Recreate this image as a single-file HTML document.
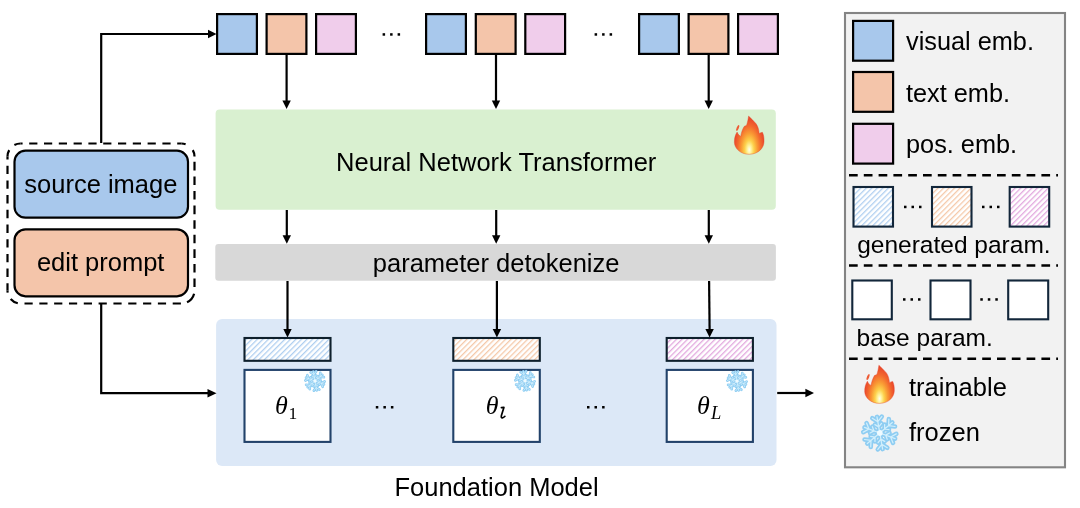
<!DOCTYPE html>
<html><head><meta charset="utf-8">
<style>
html,body{margin:0;padding:0;background:#fff;width:1080px;height:508px;overflow:hidden}
svg{display:block;will-change:transform}
text{font-family:"Liberation Sans",sans-serif;fill:#000}
.t25{font-size:25.5px}
.m{font-family:"Liberation Serif",serif;font-style:italic}
</style></head><body>
<svg width="1080" height="508" viewBox="0 0 1080 508">
<defs>
<pattern id="hb" patternUnits="userSpaceOnUse" width="3.9" height="4" patternTransform="rotate(45)"><rect width="3.9" height="4" fill="#fff"/><line x1="0.6" y1="0" x2="0.6" y2="4" stroke="#b0cff0" stroke-width="1.4"/></pattern>
<pattern id="ho" patternUnits="userSpaceOnUse" width="3.9" height="4" patternTransform="rotate(45)"><rect width="3.9" height="4" fill="#fff"/><line x1="0.6" y1="0" x2="0.6" y2="4" stroke="#f5c9aa" stroke-width="1.4"/></pattern>
<pattern id="hp" patternUnits="userSpaceOnUse" width="3.9" height="4" patternTransform="rotate(45)"><rect width="3.9" height="4" fill="#fff"/><line x1="0.6" y1="0" x2="0.6" y2="4" stroke="#e2a8de" stroke-width="1.4"/></pattern>
<radialGradient id="fg" gradientUnits="userSpaceOnUse" cx="15" cy="33.5" r="27" gradientTransform="translate(15 33.5) scale(0.72 1.45) translate(-15 -33.5)">
<stop offset="0" stop-color="#fffef0"/><stop offset="0.1" stop-color="#fff4a0"/><stop offset="0.24" stop-color="#fdd04a"/><stop offset="0.42" stop-color="#f99a34"/><stop offset="0.6" stop-color="#f36a2e"/><stop offset="0.78" stop-color="#ea4a2b"/><stop offset="1" stop-color="#e03a2a"/>
</radialGradient>
<g id="flame">
<path d="M14.3 0 C16.5 2.2 20 5.5 21.8 7.7 C23.5 10 24.6 13.5 24.9 17.5 C25.8 16.8 27 16.3 28.1 16.2 C29.3 18.5 29.9 22 29.7 25.8 C29.4 31.5 25 37.8 15 38.2 C6 38.2 0.4 32.5 0.1 26.5 C-0.1 22.5 1 18.5 2.8 16 C3.5 17.8 4.8 19.3 6.4 20.3 C7 17 8 13.5 9.8 10.4 L12.3 9.2 C13.3 6.5 13.8 3.2 14.3 0 Z" fill="url(#fg)" stroke="#e5452c" stroke-width="0.6" stroke-opacity="0.7"/>
<ellipse cx="3.45" cy="11.8" rx="1.1" ry="3.2" transform="rotate(22 3.45 11.8)" fill="#ee5a34"/>
</g>
<g id="snow">
<g id="arm" fill="none" stroke-linecap="round" stroke-linejoin="round">
<path d="M0 0 L0 -17 M0 -12 L-5 -16.5 M0 -12 L5 -16.5 M0 -6.5 L-3.5 -9.5 M0 -6.5 L3.5 -9.5"/>
</g>
</g>
<g id="sf"><g transform="rotate(-10)">
<g stroke="#8ecdf2" stroke-width="4.8">
<use href="#arm"/><use href="#arm" transform="rotate(60)"/><use href="#arm" transform="rotate(120)"/><use href="#arm" transform="rotate(180)"/><use href="#arm" transform="rotate(240)"/><use href="#arm" transform="rotate(300)"/>
</g>
<g stroke="#d2effc" stroke-width="1.3">
<use href="#arm"/><use href="#arm" transform="rotate(60)"/><use href="#arm" transform="rotate(120)"/><use href="#arm" transform="rotate(180)"/><use href="#arm" transform="rotate(240)"/><use href="#arm" transform="rotate(300)"/>
</g>
<circle r="3" fill="#eefaff"/>
</g></g>
</defs>

<!-- Foundation model box -->
<rect x="216.1" y="318.9" width="560.4" height="147.2" rx="6" fill="#dce8f7"/>
<!-- Green transformer box -->
<rect x="215.6" y="109.6" width="560.2" height="100.1" rx="4" fill="#d9f0d0"/>
<!-- Grey detokenize -->
<rect x="215.3" y="244.1" width="560.6" height="36.6" rx="3" fill="#d8d8d8"/>

<!-- top tokens -->
<g stroke="#000" stroke-width="2.2">
<rect x="217.1" y="14.1" width="39.8" height="39.8" fill="#a8c8ec"/>
<rect x="266.6" y="14.1" width="39.8" height="39.8" fill="#f4c5aa"/>
<rect x="316.1" y="14.1" width="39.8" height="39.8" fill="#f0cdeb"/>
<rect x="426.1" y="14.1" width="39.8" height="39.8" fill="#a8c8ec"/>
<rect x="475.8" y="14.1" width="39.8" height="39.8" fill="#f4c5aa"/>
<rect x="525.3" y="14.1" width="39.8" height="39.8" fill="#f0cdeb"/>
<rect x="639.1" y="14.1" width="39.8" height="39.8" fill="#a8c8ec"/>
<rect x="688.6" y="14.1" width="39.8" height="39.8" fill="#f4c5aa"/>
<rect x="738.1" y="14.1" width="39.8" height="39.8" fill="#f0cdeb"/>
</g>
<g fill="#000">
<rect x="382.6" y="33.2" width="2.5" height="2.5"/><rect x="390.1" y="33.2" width="2.5" height="2.5"/><rect x="397.6" y="33.2" width="2.5" height="2.5"/>
<rect x="594.6" y="33.2" width="2.5" height="2.5"/><rect x="602.1" y="33.2" width="2.5" height="2.5"/><rect x="609.6" y="33.2" width="2.5" height="2.5"/>
</g>

<!-- arrows -->
<g stroke="#000" stroke-width="2.2" fill="none">
<line x1="286.6" y1="55" x2="286.6" y2="101"/>
<line x1="496" y1="55" x2="496" y2="101"/>
<line x1="708.7" y1="55" x2="708.7" y2="101"/>
<line x1="286.8" y1="210" x2="286.8" y2="236"/>
<line x1="496.2" y1="210" x2="496.2" y2="236"/>
<line x1="708.8" y1="210" x2="708.8" y2="236"/>
<line x1="287.5" y1="281" x2="287.5" y2="330"/>
<line x1="496.9" y1="281" x2="496.9" y2="330"/>
<line x1="709.1" y1="281" x2="709.6" y2="330"/>
<polyline points="101.2,143 101.2,34 210,34"/>
<polyline points="101.2,304 101.2,393.2 209,393.2"/>
<line x1="777.2" y1="393" x2="806" y2="393"/>
</g>
<g fill="#000">
<path d="M282.4 100.5 L290.8 100.5 L286.6 109 Z"/>
<path d="M491.8 100.5 L500.2 100.5 L496 109 Z"/>
<path d="M704.5 100.5 L712.9 100.5 L708.7 109 Z"/>
<path d="M282.6 235.3 L291 235.3 L286.8 243.8 Z"/>
<path d="M492 235.3 L500.4 235.3 L496.2 243.8 Z"/>
<path d="M704.6 235.3 L713 235.3 L708.8 243.8 Z"/>
<path d="M283.3 329 L291.7 329 L287.5 337.5 Z"/>
<path d="M492.7 329 L501.1 329 L496.9 337.5 Z"/>
<path d="M705.4 329 L713.8 329 L709.6 337.5 Z"/>
<path d="M208 29.8 L208 38.2 L216.5 34 Z"/>
<path d="M207.5 389 L207.5 397.4 L216.5 393.2 Z"/>
<path d="M805.4 388.8 L805.4 397.2 L814 393 Z"/>
</g>

<!-- hatched generated params & theta boxes -->
<g stroke="#0e1f2c" stroke-width="2.1">
<rect x="244.5" y="338" width="86" height="22.8" fill="url(#hb)"/>
<rect x="453.3" y="338" width="86.5" height="22.8" fill="url(#ho)"/>
<rect x="666.7" y="338" width="86.2" height="22.8" fill="url(#hp)"/>
</g>
<g stroke="#22426a" stroke-width="2.1">
<rect x="244.5" y="369.9" width="86" height="72" fill="#fff"/>
<rect x="453.3" y="369.9" width="86.5" height="72" fill="#fff"/>
<rect x="666.7" y="369.9" width="86.2" height="72" fill="#fff"/>
</g>
<g fill="#000">
<rect x="375.8" y="406" width="2.5" height="2.5"/><rect x="383.4" y="406" width="2.5" height="2.5"/><rect x="390.9" y="406" width="2.5" height="2.5"/>
<rect x="587" y="406" width="2.5" height="2.5"/><rect x="594.5" y="406" width="2.5" height="2.5"/><rect x="602.1" y="406" width="2.5" height="2.5"/>
</g>
<use href="#sf" transform="translate(315,381) scale(0.56)"/>
<use href="#sf" transform="translate(525,380.8) scale(0.56)"/>
<use href="#sf" transform="translate(737,381.1) scale(0.56)"/>
<text class="m" x="275" y="414" font-size="26">θ<tspan font-size="17.5" font-style="normal" dx="0.8" dy="4.6">1</tspan></text>
<text class="m" x="485.8" y="414" font-size="26">θ</text>
<path d="M501.4 407.7 L503.9 407.4 L501.4 415.6 Q500.9 418 502.4 417.9 Q503.6 417.8 504.9 416.3" fill="none" stroke="#000" stroke-width="1.7" stroke-linecap="round" stroke-linejoin="round"/>
<text class="m" x="697" y="414" font-size="26">θ<tspan font-size="18.5" dx="1.3" dy="4.8">L</tspan></text>

<!-- left input panel -->
<g fill="none" stroke="#000" stroke-width="2.2">
<path d="M20.5 143.5 H181.5" stroke-dasharray="8.2 6.6" stroke-dashoffset="6.1"/>
<path d="M7.5 156.5 V290.5" stroke-dasharray="8.4 6.3" stroke-dashoffset="5.5"/>
<path d="M20.5 303.5 H181.5" stroke-dasharray="8.2 6.62" stroke-dashoffset="10.82"/>
<path d="M194.5 156.5 V290.5" stroke-dasharray="8.6 5.99" stroke-dashoffset="9.29"/>
<path d="M20.5 143.5 A13 13 0 0 0 7.5 156.5" stroke-dasharray="6.35 7.25 7 10"/>
<path d="M7.5 290.5 A13 13 0 0 0 20.5 303.5" stroke-dasharray="2.2 7 8.3 10"/>
<path d="M181.5 303.5 A13 13 0 0 0 194.5 290.5" stroke-dasharray="0 5.7 11.3 10"/>
<path d="M181.5 143.5 A13 13 0 0 1 194.5 156.5" stroke-dasharray="4.2 9.4 7 10"/>
</g>
<rect x="14.5" y="150.7" width="173.5" height="67" rx="11" fill="#a8c8ec" stroke="#000" stroke-width="2.2"/>
<rect x="14.5" y="229.4" width="173.5" height="66.9" rx="11" fill="#f4c5aa" stroke="#000" stroke-width="2.2"/>
<text class="t25" x="24.3" y="192.5">source image</text>
<text class="t25" x="36.9" y="271.4">edit prompt</text>

<text class="t25" x="336.1" y="171">Neural Network Transformer</text>
<text class="t25" x="372.8" y="272.2">parameter detokenize</text>
<text class="t25" x="394.5" y="496">Foundation Model</text>
<use href="#flame" transform="translate(734.3,116.1)"/>

<!-- legend -->
<rect x="845" y="13" width="220" height="454.3" fill="#f2f2f2" stroke="#848484" stroke-width="2.1"/>
<g stroke="#000" stroke-width="2.2">
<rect x="853.1" y="20.9" width="40" height="39.8" fill="#a8c8ec"/>
<rect x="853.1" y="72" width="40" height="39.8" fill="#f4c5aa"/>
<rect x="853.1" y="123.8" width="40" height="39.8" fill="#f0cdeb"/>
</g>
<text x="906" y="49.5" font-size="25.3">visual emb.</text>
<text x="906" y="102.3" font-size="25.3">text emb.</text>
<text x="906" y="153.2" font-size="25.3">pos. emb.</text>
<g stroke="#000" stroke-width="2.4" stroke-dasharray="8.7 6.1">
<line x1="849" y1="175.3" x2="1058" y2="175.3"/>
<line x1="849" y1="265.5" x2="1058" y2="265.5"/>
<line x1="849" y1="358.7" x2="1058" y2="358.7"/>
</g>
<g stroke="#12263a" stroke-width="2.1">
<rect x="853.5" y="187" width="39.5" height="39.6" fill="url(#hb)"/>
<rect x="932" y="187" width="39.5" height="39.6" fill="url(#ho)"/>
<rect x="1009.7" y="187" width="39.5" height="39.6" fill="url(#hp)"/>
<rect x="852.3" y="280.5" width="39.5" height="38.8" fill="#fff"/>
<rect x="930.5" y="280.5" width="40" height="38.8" fill="#fff"/>
<rect x="1008.2" y="280.5" width="40" height="38.8" fill="#fff"/>
</g>
<g fill="#000">
<rect x="904" y="205.7" width="2.5" height="2.5"/><rect x="911.5" y="205.7" width="2.5" height="2.5"/><rect x="919" y="205.7" width="2.5" height="2.5"/>
<rect x="982" y="205.7" width="2.5" height="2.5"/><rect x="989.5" y="205.7" width="2.5" height="2.5"/><rect x="997" y="205.7" width="2.5" height="2.5"/>
<rect x="903" y="298.2" width="2.5" height="2.5"/><rect x="910.5" y="298.2" width="2.5" height="2.5"/><rect x="918" y="298.2" width="2.5" height="2.5"/>
<rect x="980.3" y="298.2" width="2.5" height="2.5"/><rect x="987.8" y="298.2" width="2.5" height="2.5"/><rect x="995.3" y="298.2" width="2.5" height="2.5"/>
</g>
<text x="857.2" y="252.5" font-size="24.5">generated param.</text>
<text x="856.6" y="345.6" font-size="24.5">base param.</text>
<use href="#flame" transform="translate(864.6,365.2)"/>
<use href="#sf" transform="translate(879.8,433) scale(0.96)"/>
<text class="t25" x="909" y="395.5">trainable</text>
<text class="t25" x="909" y="440.8">frozen</text>
</svg>
</body></html>
